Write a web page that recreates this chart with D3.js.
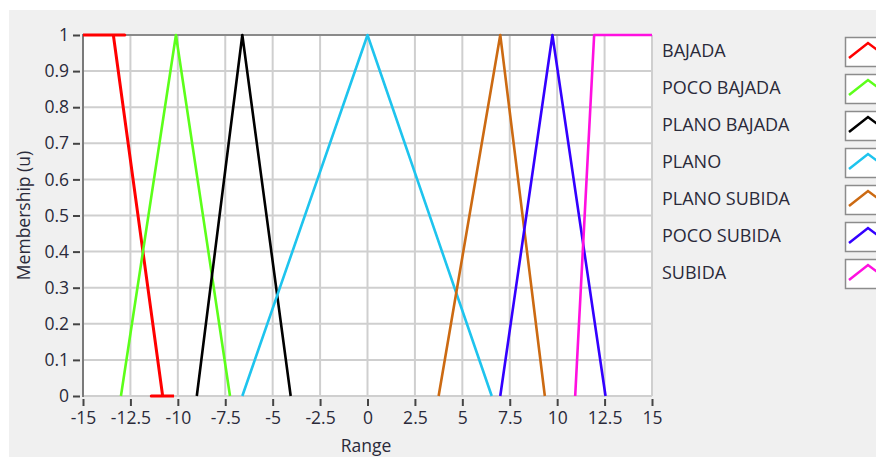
<!DOCTYPE html>
<html><head><meta charset="utf-8">
<script src="https://cdn.jsdelivr.net/npm/d3@7/dist/d3.min.js"></script>
<style>
html,body{margin:0;padding:0;background:#fff;}
svg{display:block;font-family:"Open Sans",sans-serif;}
</style></head>
<body><svg id="c" width="876" height="459"></svg>
<script>
const xTicks = [-15,-12.5,-10,-7.5,-5,-2.5,0,2.5,5,7.5,10,12.5,15];
const yTicks = [0,0.1,0.2,0.3,0.4,0.5,0.6,0.7,0.8,0.9,1];
const seriesNames = ["BAJADA","POCO BAJADA","PLANO BAJADA","PLANO","PLANO SUBIDA","POCO SUBIDA","SUBIDA"];
const seriesColors = ["#ff0000","#5cff1a","#000000","#1ec4ee","#cc6a12","#3300ff","#ff10e0"];
const bajada      = [[-15,1],[-12.8,1],[-13.4,1],[-10.8,0],[-11.4,0],[-10.2,0]];
const pocoBajada  = [[-13,0],[-10.1,1],[-7.25,0]];
const planoBajada = [[-9,0],[-6.6,1],[-4.05,0]];
const plano       = [[-6.6,0],[0,1],[6.55,0]];
const planoSubida = [[3.75,0],[7,1],[9.35,0]];
const pocoSubida  = [[7,0],[9.75,1],[12.55,0]];
const subida      = [[10.95,0],[11.95,1],[15,1]];
const seriesData = [bajada,pocoBajada,planoBajada,plano,planoSubida,pocoSubida,subida];

const TXT = "#2a2a3a";
const fmt = d => d3.format("~g")(d).replace("\u2212","-");

const svg = d3.select("#c");
svg.append("rect").attr("x",9).attr("y",10).attr("width",867).attr("height",447).attr("fill","#f0f0f0");

const L=83, R=652, T=35, B=396;
const x = d3.scaleLinear().domain([-15,15]).range([L,R]);
const y = d3.scaleLinear().domain([0,1]).range([B,T]);

svg.append("rect").attr("x",L).attr("y",T).attr("width",R-L).attr("height",B-T).attr("fill","#fff");

// grid
const g = svg.append("g");
g.selectAll(".vx").data(xTicks).enter().append("line")
 .attr("x1",d=>x(d)).attr("x2",d=>x(d)).attr("y1",T).attr("y2",B)
 .attr("stroke","#cfcfcf").attr("stroke-width",2);
g.selectAll(".hy").data(yTicks).enter().append("line")
 .attr("x1",L).attr("x2",R).attr("y1",d=>y(d)).attr("y2",d=>y(d))
 .attr("stroke","#cfcfcf").attr("stroke-width",2);

// frame
svg.append("line").attr("x1",L).attr("x2",R).attr("y1",T).attr("y2",T).attr("stroke","#8a8a8a").attr("stroke-width",2);
svg.append("line").attr("x1",L).attr("x2",L).attr("y1",T-1).attr("y2",B+1).attr("stroke","#7a7a7a").attr("stroke-width",2);

const fontStyle = sel => sel.attr("fill",TXT).style("font-size","17.5px").style("font-weight","500").style("font-family","Open Sans");

// axes
const yAxis = d3.axisLeft(y).tickValues(yTicks).tickFormat(fmt).tickSize(7).tickPadding(4);
const ya = svg.append("g").attr("transform",`translate(${L-3},0)`).call(yAxis);
ya.select(".domain").remove();
ya.selectAll("line").attr("stroke","#444").attr("stroke-width",2);
ya.selectAll("text").call(fontStyle);

const xAxis = d3.axisBottom(x).tickValues(xTicks).tickFormat(fmt).tickSize(7).tickPadding(6);
const xa = svg.append("g").attr("transform",`translate(0,${B+3})`).call(xAxis);
xa.select(".domain").remove();
xa.selectAll("line").attr("stroke","#444").attr("stroke-width",2);
xa.selectAll("text").call(fontStyle);

// axis titles
svg.append("text").attr("x",366).attr("y",452).attr("text-anchor","middle").call(fontStyle).text("Range");
svg.append("text").attr("transform",`translate(30,${(T+B)/2}) rotate(-90)`).attr("text-anchor","middle")
 .call(fontStyle).text("Membership (u)");

// series
const line = d3.line().x(d=>x(d[0])).y(d=>y(d[1]));
svg.append("clipPath").attr("id","pc").append("rect").attr("x",L).attr("y",T-2).attr("width",R-L+1).attr("height",B-T+4);
svg.append("g").attr("clip-path","url(#pc)").selectAll("path").data(seriesData).enter().append("path")
 .attr("d",line).attr("fill","none").attr("stroke",(d,i)=>seriesColors[i])
 .attr("stroke-width",(d,i)=>i===0?3:2.6).attr("stroke-linejoin","round");

// legend
const lg = svg.append("g");
const items = lg.selectAll("g").data(seriesNames).enter().append("g")
 .attr("transform",(d,i)=>`translate(0,${i*37})`);
items.append("text").attr("x",662).attr("y",57).call(fontStyle).style("font-size","18px").text(d=>d);
items.append("rect").attr("x",845.5).attr("y",37.5).attr("width",40).attr("height",29)
 .attr("fill","#fff").attr("stroke","#8c8c8c").attr("stroke-width",1.5);
const sample = d3.line();
items.append("path").attr("d",()=>sample([[849,58],[868,43],[884,55]]))
 .attr("fill","none").attr("stroke",(d,i)=>seriesColors[i]).attr("stroke-width",2.5);
</script></body></html>
